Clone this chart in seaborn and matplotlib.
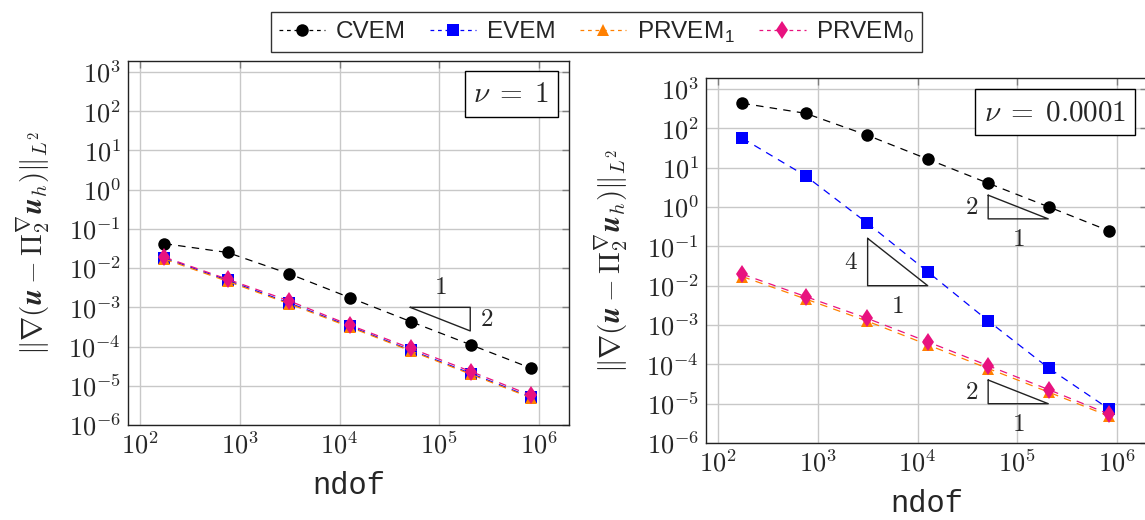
import numpy as np
import pandas as pd
import matplotlib
matplotlib.use("Agg")
import matplotlib.pyplot as plt
from matplotlib.lines import Line2D
from matplotlib.ticker import FuncFormatter, NullLocator
import seaborn as sns

# ---------------------------------------------------------------
# data
# ---------------------------------------------------------------
ndof = [176, 754, 3150, 12800, 51400, 208000, 832000]
methods = ["CVEM", "EVEM", "PRVEM_1", "PRVEM_0"]
labels = ["CVEM", "EVEM", r"PRVEM$_\mathregular{1}$", r"PRVEM$_\mathregular{0}$"]

# nu = 1
cvem_nu1 = [4.2e-2, 2.5e-2, 7.1e-3, 1.75e-3, 4.35e-4, 1.1e-4, 2.8e-5]
evem_nu1 = [1.8e-2, 4.9e-3, 1.28e-3, 3.25e-4, 8.1e-5, 2.05e-5, 5.1e-6]
prvem1_nu1 = [1.7e-2, 4.6e-3, 1.22e-3, 3.1e-4, 7.8e-5, 1.95e-5, 4.9e-6]
prvem0_nu1 = [1.9e-2, 5.2e-3, 1.45e-3, 3.5e-4, 9.1e-5, 2.3e-5, 5.7e-6]

# nu = 0.0001
cvem_nu4 = [433, 241, 66.5, 16.3, 4.0, 1.0, 0.247]
evem_nu4 = [55.8, 6.2, 0.387, 0.022, 1.26e-3, 7.9e-5, 7.3e-6]
prvem1_nu4 = [1.7e-2, 4.6e-3, 1.25e-3, 3.1e-4, 7.8e-5, 1.95e-5, 4.8e-6]
prvem0_nu4 = [1.96e-2, 5.3e-3, 1.47e-3, 3.7e-4, 9.2e-5, 2.26e-5, 5.4e-6]

# slope triangles: (x0, y0, x-factor, y-factor)
tri_left = (5.1e4, 1e-3, 4.0, 4.0)
tri_right = [(5.1e4, 0.5, 4.0, 4.0, "2"),
             (3.16e3, 1e-2, 4.0, 16.0, "4"),
             (5.1e4, 1e-5, 4.0, 4.0, "2")]

# ---------------------------------------------------------------
# style
# ---------------------------------------------------------------
sns.set_theme(style="white")
plt.rcParams["font.family"] = ["Liberation Sans", "DejaVu Sans"]
plt.rcParams["mathtext.fontset"] = "cm"

COLORS = {"CVEM": "black", "EVEM": "#0000FF", "PRVEM_1": "#FF8000", "PRVEM_0": "#E8127F"}
MARKERS = {"CVEM": "o", "EVEM": "s", "PRVEM_1": "^", "PRVEM_0": "d"}
MSIZE = {"CVEM": 9, "EVEM": 8, "PRVEM_1": 8, "PRVEM_0": 9.5}
DASH = (6, 5)


def long_frame(series):
    rows = []
    for m, vals in zip(methods, series):
        for x, y in zip(ndof, vals):
            rows.append({"ndof": x, "err": y, "method": m})
    return pd.DataFrame(rows)


def style_axes(ax):
    ax.set_xscale("log")
    ax.set_yscale("log")
    ax.set_xlim(10 ** 1.88, 10 ** 6.30)
    ax.set_ylim(1e-6, 10 ** 3.28)
    ax.set_yticks([10.0 ** k for k in range(-6, 4)])
    ax.set_xticks([10.0 ** k for k in range(2, 7)])
    ax.xaxis.set_minor_locator(NullLocator())
    ax.yaxis.set_minor_locator(NullLocator())
    fmt = FuncFormatter(lambda v, p: r"$10^{%d}$" % int(round(np.log10(v))))
    ax.xaxis.set_major_formatter(fmt)
    ax.yaxis.set_major_formatter(fmt)
    ax.grid(True, color="#c8c8c8", linewidth=1.0)
    ax.tick_params(direction="in", length=5, width=1, color="#808080",
                   labelsize=19, top=True, right=True, pad=5)
    for s in ax.spines.values():
        s.set_color("#222222")
        s.set_linewidth(1.0)
    ax.set_xlabel("ndof", fontsize=22, labelpad=9, family="Liberation Mono")
    ax.set_ylabel(r"$\Vert\nabla(\boldsymbol{u}-\Pi_2^{\nabla}\boldsymbol{u}_h)\Vert_{L^2}$",
                  fontsize=21, labelpad=11)


def draw_series(ax, df):
    for m in methods:
        sub = df[df["method"] == m]
        sns.lineplot(data=sub, x="ndof", y="err", ax=ax, color=COLORS[m],
                     marker=MARKERS[m], markersize=MSIZE[m], markeredgewidth=0,
                     linewidth=0.9, legend=False, errorbar=None)
    for line in ax.get_lines():
        line.set_dashes(DASH)


fig = plt.figure(figsize=(11.45, 5.2), dpi=100)
ax1 = fig.add_axes([0.1118, 0.1827, 0.3852, 0.700])
ax2 = fig.add_axes([0.6166, 0.1480, 0.3852, 0.702])

draw_series(ax1, long_frame([cvem_nu1, evem_nu1, prvem1_nu1, prvem0_nu1]))
draw_series(ax2, long_frame([cvem_nu4, evem_nu4, prvem1_nu4, prvem0_nu4]))
style_axes(ax1)
style_axes(ax2)

# nu boxes
box = dict(boxstyle="square,pad=0.3", facecolor="white", edgecolor="black", linewidth=1)
ax1.text(0.955, 0.948, r"$\nu\;=\;1$", transform=ax1.transAxes, ha="right", va="top",
         fontsize=21, bbox=box, zorder=5)
ax2.text(0.952, 0.945, r"$\nu\;=\;0.0001$", transform=ax2.transAxes, ha="right", va="top",
         fontsize=21, bbox=box, zorder=5)

# slope triangle, left panel
x0, y0, fx, fy = tri_left
ax1.plot([x0, x0 * fx, x0 * fx, x0], [y0, y0, y0 / fy, y0], color="#222222", lw=1.0)
ax1.annotate("$1$", (np.sqrt(x0 * x0 * fx), y0), xytext=(0, 6), textcoords="offset points",
             ha="center", va="bottom", fontsize=18)
ax1.annotate("$2$", (x0 * fx, np.sqrt(y0 * y0 / fy)), xytext=(7, 0), textcoords="offset points",
             ha="left", va="center", fontsize=18)

# slope triangles, right panel
for x0, y0, fx, fy, lab in tri_right:
    ax2.plot([x0, x0, x0 * fx, x0], [y0 * fy, y0, y0, y0 * fy], color="#222222", lw=1.0)
    ax2.annotate("$%s$" % lab, (x0, np.sqrt(y0 * y0 * fy)), xytext=(-7, 0),
                 textcoords="offset points", ha="right", va="center", fontsize=18)
    ax2.annotate("$1$", (np.sqrt(x0 * x0 * fx), y0), xytext=(0, -6),
                 textcoords="offset points", ha="center", va="top", fontsize=18)

# legend
handles = [Line2D([0], [0], color=COLORS[m], marker=MARKERS[m], markersize=MSIZE[m],
                  markeredgewidth=0, linewidth=0.9, dashes=(3, 3)) for m in methods]
leg = fig.legend(handles, labels, loc="upper center", bbox_to_anchor=(0.521, 1.0), ncol=4,
                 fontsize=17.5, frameon=True, fancybox=False, edgecolor="black",
                 handlelength=1.9, handletextpad=0.45, columnspacing=1.0,
                 borderpad=0.3)
leg.get_frame().set_linewidth(1.0)

fig.savefig("out.png", dpi=100)
